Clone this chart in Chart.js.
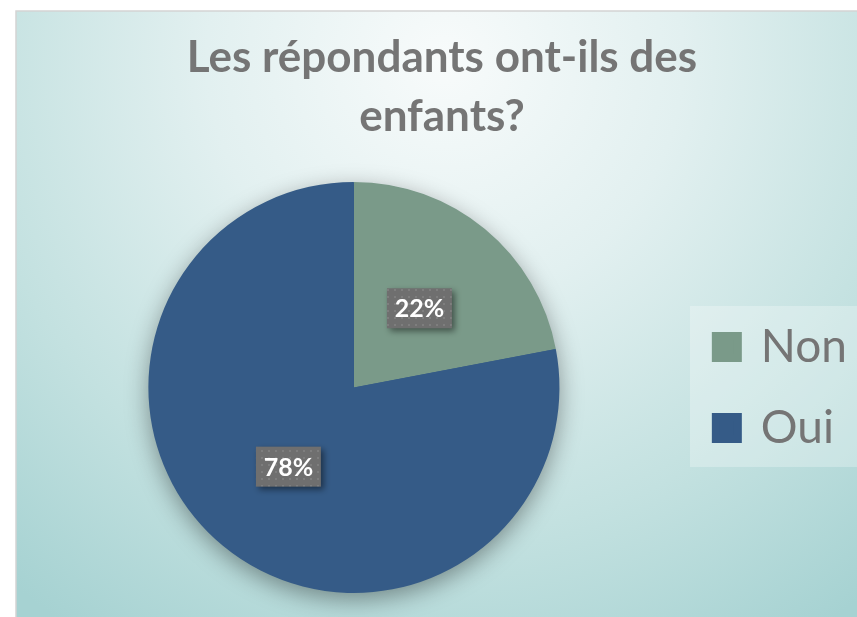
<!DOCTYPE html>
<html lang="fr">
<head>
<meta charset="utf-8">
<title>Les répondants ont-ils des enfants?</title>
<script src="https://cdn.jsdelivr.net/npm/chart.js@4.4.1/dist/chart.umd.min.js"></script>
<style>
  html, body { margin: 0; padding: 0; background: #fff; }
  #chart { display: block; }
</style>
</head>
<body>
<canvas id="chart" width="857" height="617"></canvas>
<script>
// données
const categories = ['Non', 'Oui'];
const valeurs = [22, 78];
const couleurs = ['#7A9A89', '#355B87'];
const titre = ['Les répondants ont-ils des', 'enfants?'];

const gris = '#757575';

// fond : cadre avec dégradé radial clair au centre-haut
const fondPlugin = {
  id: 'fond',
  beforeDraw(chart) {
    const ctx = chart.ctx;
    ctx.save();
    ctx.fillStyle = '#ffffff';
    ctx.fillRect(0, 0, chart.width, chart.height);
    const g = ctx.createRadialGradient(445, 60, 0, 445, 60, 680);
    g.addColorStop(0, '#f8fbfb');
    g.addColorStop(0.35, '#e2f0f0');
    g.addColorStop(0.7, '#c3e1e0');
    g.addColorStop(1, '#a6d2d2');
    ctx.fillStyle = g;
    ctx.fillRect(16, 11, chart.width - 16, chart.height - 11);
    ctx.strokeStyle = '#d4d4d4';
    ctx.lineWidth = 1.5;
    ctx.strokeRect(16, 11, chart.width, chart.height);

    // fond de la légende
    const lg = chart.legend;
    if (lg && lg.legendHitBoxes.length) {
      const boxes = lg.legendHitBoxes;
      const top = boxes[0].top - 18;
      const bottom = boxes[boxes.length - 1].top + boxes[boxes.length - 1].height + 16;
      ctx.fillStyle = 'rgba(255,255,255,0.28)';
      ctx.fillRect(690, top, chart.width - 690, bottom - top);
    }
    ctx.restore();
  },
  beforeDatasetsDraw(chart) {
    // ombre douce sous le camembert
    const arc = chart.getDatasetMeta(0).data[0];
    if (!arc) return;
    const ctx = chart.ctx;
    ctx.save();
    ctx.shadowColor = 'rgba(0,0,0,0.4)';
    ctx.shadowBlur = 24;
    ctx.shadowOffsetY = 7;
    ctx.fillStyle = couleurs[1];
    ctx.beginPath();
    ctx.arc(arc.x, arc.y, arc.outerRadius - 1, 0, Math.PI * 2);
    ctx.fill();
    ctx.restore();
  }
};

// étiquettes de pourcentage dans des encadrés gris tramés
function motif(ctx) {
  const c = document.createElement('canvas');
  c.width = 7; c.height = 7;
  const p = c.getContext('2d');
  p.fillStyle = '#6f6f6f';
  p.fillRect(0, 0, 7, 7);
  p.fillStyle = '#7e7e7e';
  p.fillRect(2, 2, 2, 2);
  return ctx.createPattern(c, 'repeat');
}

const etiquettesPlugin = {
  id: 'etiquettes',
  afterDatasetsDraw(chart) {
    const ctx = chart.ctx;
    const meta = chart.getDatasetMeta(0);
    const total = valeurs.reduce((s, v) => s + v, 0);
    const trame = motif(ctx);
    meta.data.forEach((arc, i) => {
      const pos = arc.tooltipPosition();
      const txt = Math.round(valeurs[i] / total * 100) + '%';
      const w = 65, h = 40;
      ctx.save();
      ctx.shadowColor = 'rgba(0,0,0,0.45)';
      ctx.shadowBlur = 6;
      ctx.shadowOffsetX = 3;
      ctx.shadowOffsetY = 3;
      ctx.fillStyle = trame;
      ctx.fillRect(pos.x - w / 2, pos.y - h / 2, w, h);
      ctx.restore();
      ctx.save();
      ctx.fillStyle = '#ffffff';
      ctx.font = 'bold 25px Lato';
      ctx.textAlign = 'center';
      ctx.textBaseline = 'middle';
      ctx.fillText(txt, pos.x, pos.y + 1);
      ctx.restore();
    });
  }
};

// carrés de légende : petit carré + trait épais de même couleur (texte plus proche)
const baseLabels = Chart.overrides.pie.plugins.legend.labels.generateLabels;

new Chart(document.getElementById('chart'), {
  type: 'pie',
  data: {
    labels: categories,
    datasets: [{
      data: valeurs,
      backgroundColor: couleurs,
      borderWidth: 0,
    }],
  },
  options: {
    responsive: false,
    animation: false,
    devicePixelRatio: 1,
    layout: { padding: { left: 27, right: 0, top: 0, bottom: 24 } },
    plugins: {
      title: {
        display: true,
        text: titre,
        color: gris,
        font: { family: 'Lato', size: 44, weight: 'bold', lineHeight: 1.34 },
        padding: { top: 28.5, bottom: 35.5 },
      },
      legend: {
        position: 'right',
        fullSize: false,
        labels: {
          boxWidth: 22,
          boxHeight: 22,
          padding: 35,
          color: gris,
          font: { family: 'Lato', size: 46, lineHeight: 1 },
          generateLabels(chart) {
            return baseLabels(chart).map((item) => ({
              ...item,
              lineWidth: 8,
              strokeStyle: item.fillStyle,
            }));
          },
        },
      },
      tooltip: { enabled: false },
    },
  },
  plugins: [fondPlugin, etiquettesPlugin],
});
</script>
</body>
</html>
